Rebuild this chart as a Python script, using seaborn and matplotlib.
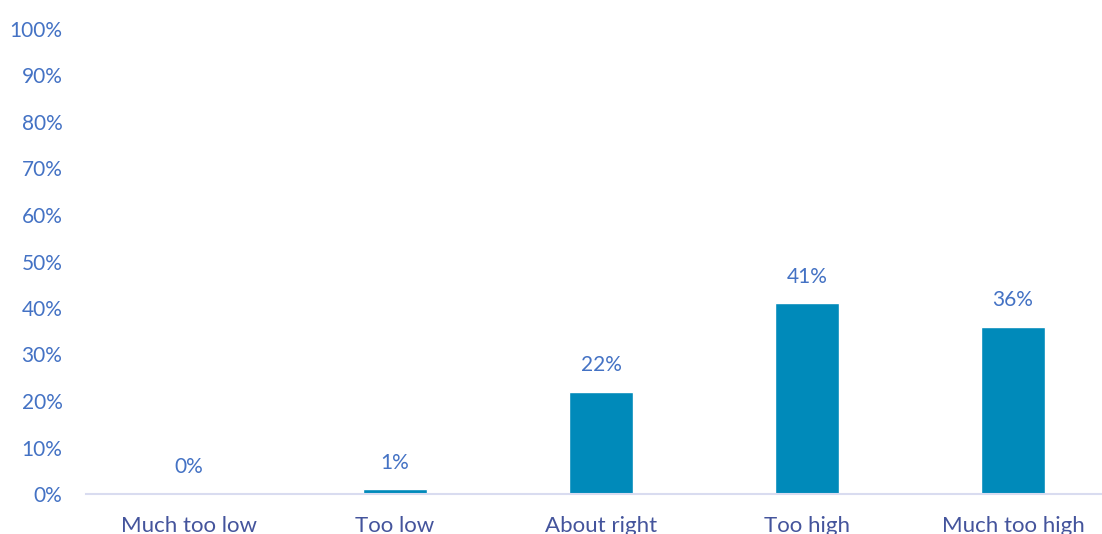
import matplotlib
matplotlib.use("Agg")
import matplotlib.pyplot as plt
import seaborn as sns
import pandas as pd
from matplotlib.ticker import PercentFormatter

categories = ["Much too low", "Too low", "About right", "Too high", "Much too high"]
shares = [0, 1, 22, 41, 36]
value_labels = ["0%", "1%", "22%", "41%", "36%"]

BAR = "#008ABA"
TICK = "#4472C4"
CAT = "#44549C"

sns.set_theme(style="white")
plt.rcParams["font.family"] = ["Lato", "DejaVu Sans"]

df = pd.DataFrame({"category": categories, "share": shares})

fig = plt.figure(figsize=(11.02, 5.34), dpi=100)
ax = fig.add_axes([86 / 1102, 40 / 534, 1030 / 1102, 465 / 534])
sns.barplot(data=df, x="category", y="share", color=BAR, width=0.31,
            saturation=1, ax=ax)

ax.set_ylim(0, 100)
ax.set_xlim(-0.5, 4.5)
ax.set_yticks(range(0, 101, 10))
ax.yaxis.set_major_formatter(PercentFormatter(decimals=0))
ax.set_xlabel("")
ax.set_ylabel("")
for s in ["top", "right", "left"]:
    ax.spines[s].set_visible(False)
ax.spines["bottom"].set_color("#D9DCF0")
ax.spines["bottom"].set_linewidth(1.5)
ax.tick_params(axis="y", colors=TICK, labelsize=15, length=0, pad=17)
ax.tick_params(axis="x", colors=CAT, labelsize=16, length=0, pad=16)

for i, (v, t) in enumerate(zip(shares, value_labels)):
    ax.annotate(t, (i, v), xytext=(0, 12), textcoords="offset points",
                ha="center", va="bottom", color=TICK, fontsize=15)

fig.savefig("out.png", dpi=100)
